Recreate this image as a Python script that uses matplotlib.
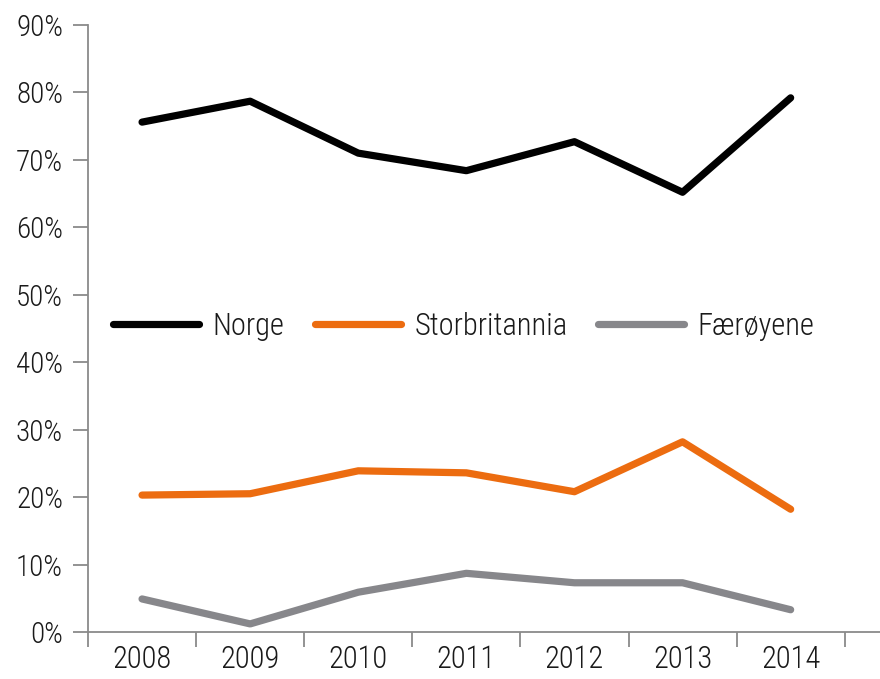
import matplotlib
matplotlib.use('Agg')
import matplotlib.pyplot as plt
from matplotlib.ticker import FixedLocator, NullFormatter

plt.rcParams['font.family'] = ['Roboto Condensed', 'Liberation Sans Narrow', 'Roboto', 'DejaVu Sans']
plt.rcParams['font.weight'] = 'light'

years = ['2008', '2009', '2010', '2011', '2012', '2013', '2014']
norge = [75.6, 78.7, 71.0, 68.4, 72.7, 65.2, 79.2]
storbritannia = [20.3, 20.5, 23.9, 23.6, 20.8, 28.2, 18.2]
faeroyene = [4.9, 1.2, 5.9, 8.7, 7.3, 7.3, 3.3]
y_ticks = [0, 10, 20, 30, 40, 50, 60, 70, 80, 90]

fig = plt.figure(figsize=(8.8, 6.79), dpi=100)
ax = fig.add_axes([88 / 880, 47 / 679, 792 / 880, 607 / 679])

x = [i + 0.5 for i in range(len(years))]
ax.plot(x, norge, color='#000000', lw=5.2, solid_capstyle='round', solid_joinstyle='round', label='Norge')
ax.plot(x, storbritannia, color='#ec6c10', lw=5.2, solid_capstyle='round', solid_joinstyle='round', label='Storbritannia')
ax.plot(x, faeroyene, color='#87878b', lw=5.2, solid_capstyle='round', solid_joinstyle='round', label='Færøyene')

ax.set_ylim(0, 90)
ax.set_xlim(0, 792 / 108.1)

ax.set_yticks(y_ticks)
ax.set_yticklabels([f'{v}%' for v in y_ticks])

# category boundaries as tick marks, labels in between
ax.xaxis.set_major_locator(FixedLocator(list(range(len(years) + 1))))
ax.xaxis.set_major_formatter(NullFormatter())
ax.xaxis.set_minor_locator(FixedLocator(x))
ax.set_xticklabels(years, minor=True)
ax.tick_params(axis='x', which='minor', length=0, pad=9, labelsize=22, labelcolor='#1a1a1a')
ax.tick_params(axis='x', which='major', length=11, width=1.3, color='#8a8a8a')
ax.tick_params(axis='y', length=11, width=1.3, color='#8a8a8a', labelsize=21, labelcolor='#1a1a1a', pad=7)

for s in ['top', 'right']:
    ax.spines[s].set_visible(False)
for s in ['left', 'bottom']:
    ax.spines[s].set_color('#8a8a8a')
    ax.spines[s].set_linewidth(1.3)

leg = ax.legend(loc='center left', bbox_to_anchor=(0.032, 0.504), ncol=3, frameon=False,
                fontsize=22, handlelength=2.8, handletextpad=0.45, columnspacing=1.0,
                borderaxespad=0, borderpad=0)
for t in leg.get_texts():
    t.set_color('#1a1a1a')

fig.savefig('out.png', dpi=100)
